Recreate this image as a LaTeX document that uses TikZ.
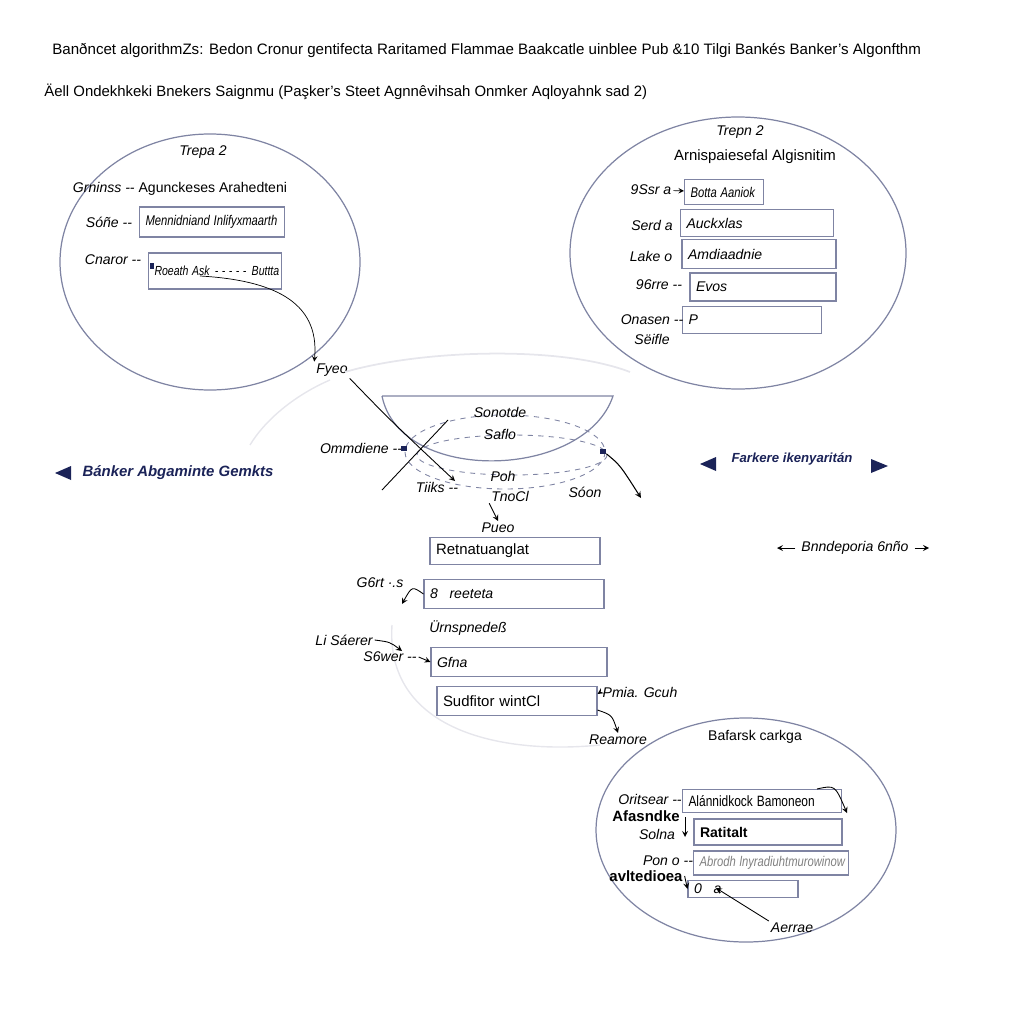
\documentclass[tikz,border=0pt]{standalone}
\usepackage{fontspec}
\setmainfont{Liberation Sans}
\usepackage{xcolor}
\usepackage{graphicx}
\usepackage{tikz}
\usetikzlibrary{arrows.meta}
\usetikzlibrary{shapes,arrows}
\definecolor{edge}{HTML}{7F84A3}
\definecolor{navy}{HTML}{1B2358}
\definecolor{faint}{HTML}{E6E6EC}
\newcommand{\squeeze}[1]{\scalebox{0.8}[1]{#1}}
\tikzstyle{arrow} = [->,>=stealth]
\tikzstyle{box} = [draw=edge, line width=0.6pt, inner xsep=0.12cm, inner ysep=0pt, align=left, font=\fontsize{8}{9}\selectfont\itshape]
\tikzstyle{lbl} = [inner sep=1pt, font=\fontsize{8}{9}\selectfont\itshape]
\tikzstyle{bub} = [draw=edge, line width=0.7pt]
\tikzstyle{side} = [inner sep=1pt, text=navy, font=\fontsize{8.5}{10}\selectfont\bfseries\itshape]

\begin{document}
\begin{tikzpicture}[x=0.02cm, y=-0.02cm]
    \useasboundingbox (0,0) rectangle (1024,1024);

    % titel
    \node[anchor=west, inner sep=0pt, font=\fontsize{8.6}{10}\selectfont] (title1) at (52,50)
        {Banðncet algorithmZs: Bedon Cronur gentifecta Raritamed Flammae Baakcatle uinblee Pub \&10 Tilgi Bankés Banker's Algonfthm};
    \node[anchor=west, inner sep=0pt, font=\fontsize{8.5}{10}\selectfont] (title2) at (44,92)
        {Äell Ondekhkeki Bnekers Saignmu (Paşker's Steet Agnnêvihsah Onmker Aqloyahnk sad 2)};

    % linke blase
    \draw[bub] (210,262) ellipse [x radius=150, y radius=128];
    \node[lbl] (tl) at (203,152) {Trepa 2};
    \node[lbl, font=\fontsize{8}{9}\selectfont] (gl) at (180,189) {\textit{Grninss {-}{-}} Agunckeses Arahedteni};
    \node[box, text width=2.66cm, minimum height=0.6cm] (lb1) at (212,222) {\squeeze{Mennidniand Inlifyxmaarth}};
    \node[box, text width=2.42cm, minimum height=0.72cm, font=\fontsize{7.5}{9}\selectfont\itshape] (lb2) at (215,271) {\squeeze{Roeath Ask\, - - - - -\, Buttta}};
    \node[lbl] (sl) at (109,222) {Sóñe {-}{-}};
    \node[lbl] (cl) at (113,260) {Cnaror {-}{-}};
    \node[lbl] (fyeo) at (332,370) {Fyeo};
    \fill[navy] (150,263) rectangle (154,269);
    \draw[arrow] ([xshift=-0.3cm,yshift=-0.1cm]lb2.center) .. controls (270,280) and (320,300) .. (fyeo.north west);

    % rechte blase
    \draw[bub] (738,253) ellipse [x radius=168, y radius=136];
    \node[lbl] (tr) at (740,132) {Trepn 2};
    \node[lbl, font=\fontsize{8.5}{10}\selectfont] (ar) at (755,157) {Arnispaiesefal Algisnitim};
    \node[box, text width=1.34cm, minimum height=0.5cm] (rb1) at (724,192) {\squeeze{Botta Aaniok}};
    \node[box, text width=2.82cm, minimum height=0.54cm] (rb2) at (757,223) {Auckxlas};
    \node[box, text width=2.84cm, minimum height=0.58cm] (rb3) at (759,254) {Amdiaadnie};
    \node[box, text width=2.68cm, minimum height=0.56cm] (rb4) at (763,287) {Evos};
    \node[box, text width=2.54cm, minimum height=0.54cm] (rb5) at (752,320) {P};
    \node[lbl] (r1) at (651,190) {9Ssr a};
    \node[lbl] (r2) at (652,225) {Serd a};
    \node[lbl] (r3) at (651,256) {Lake o};
    \node[lbl] (r4) at (659,285) {96rre {-}{-}};
    \node[lbl] (r5) at (652,320) {Onasen {-}{-}};
    \node[lbl] (r6) at (652,339) {Sëifle};
    \draw[arrow] (r1) -- (rb1);

    % mitte
    \draw[faint, line width=1pt] (345,372) .. controls (420,350) and (560,345) .. (630,372);
    \draw[faint, line width=0.8pt] (330,380) .. controls (295,395) and (265,420) .. (250,445);
    \draw[faint, line width=0.8pt] (392,625) .. controls (385,730) and (500,755) .. (600,745);
    \draw[bub] (382,396) -- (613,396) .. controls (585,480) and (400,485) .. (382,396);
    \draw[edge, dashed, line width=0.5pt] (505,452) ellipse [x radius=100, y radius=37];
    \draw[edge, dashed, line width=0.5pt] (512,455) ellipse [x radius=95, y radius=20];
    \node[lbl] (so) at (500,412) {Sonotde};
    \node[lbl] (sa) at (500,434) {Saflo};
    \node[lbl] (om) at (361,448) {Ommdiene {-}{-}};
    \node[lbl] (poh) at (503,476) {Poh};
    \node[lbl] (ti) at (437,487) {Tiiks {-}{-}};
    \node[lbl] (tn) at (510,496) {TnoCl};
    \node[lbl] (soo) at (585,492) {Sóon};
    \node[lbl] (pueo) at (498,528) {Pueo};
    \node[fill=navy, inner sep=0pt, minimum width=0.12cm, minimum height=0.1cm] (mk1) at (404,448) {};
    \node[fill=navy, inner sep=0pt, minimum width=0.12cm, minimum height=0.1cm] (mk2) at (603,451) {};
    \coordinate (t1) at (455,481);
    \coordinate (l1) at (382,490);
    \coordinate (l2) at (448,420);
    \coordinate (s1) at (641,498);
    \draw[arrow, line width=0.5pt] (fyeo.south east) .. controls (390,420) .. (t1);
    \draw[line width=0.5pt] (l1) -- (l2);
    \draw[arrow, line width=0.6pt] (mk2) .. controls (620,465) .. (s1);
    \draw[arrow, line width=0.5pt] (tn.south west) -- (pueo.north);

    \node[box, text width=3.16cm, minimum height=0.54cm, font=\fontsize{8.5}{10}\selectfont] (cb1) at (515,551) {Retnatuanglat};
    \node[box, text width=3.36cm, minimum height=0.58cm] (cb2) at (514,594) {8\hspace{0.5em} reeteta};
    \node[lbl] (ur) at (468,628) {Ürnspnedeß};
    \node[box, text width=3.28cm, minimum height=0.58cm] (cb3) at (519,662) {Gfna};
    \node[box, text width=2.96cm, minimum height=0.58cm, font=\fontsize{8.5}{10}\selectfont] (cb4) at (517,701) {Sudfitor wintCl};
    \node[lbl] (gr) at (380,583) {G6rt ·.s};
    \node[lbl] (ls) at (344,640) {Li Sáerer};
    \node[lbl] (sw) at (390,657) {S6wer {-}{-}};
    \node[lbl] (pm) at (640,692) {Pmia. Gcuh};
    \node[lbl] (re) at (618,740) {Reamore};
    \coordinate (g1) at (402,604);
    \coordinate (g2) at (402,651);
    \draw[arrow, line width=0.5pt] (cb2.west) .. controls (412,586) .. (g1);
    \draw[arrow, line width=0.5pt] (ls.east) .. controls (390,642) .. (g2);
    \draw[arrow, line width=0.5pt] (sw.east) -- (cb3.west);
    \draw[arrow, line width=0.5pt] (pm.west) -- ([yshift=-0.16cm]cb4.north east);
    \draw[arrow, line width=0.5pt] ([yshift=0.12cm]cb4.south east) .. controls (612,715) .. (re.north);

    % seiten
    \fill[navy] (55,473) -- (71,466) -- (71,480) -- cycle;
    \node[side] (bl) at (178,473) {Bánker Abgaminte Gemkts};
    \fill[navy] (700,464) -- (716,457) -- (716,471) -- cycle;
    \fill[navy] (888,466) -- (871,459) -- (871,473) -- cycle;
    \node[side, font=\fontsize{7.5}{9}\selectfont\bfseries\itshape] (fr) at (792,459) {Farkere ikenyaritán};
    \node[lbl] (bn) at (855,548) {Bnndeporia 6nño};
    \coordinate (bnl) at (777,548);
    \coordinate (bnr) at (929,548);
    \draw[arrow, line width=0.5pt] (bn.west) ++(-4,0) -- (bnl);
    \draw[arrow, line width=0.5pt] (bn.east) ++(4,0) -- (bnr);

    % untere blase
    \draw[bub] (746,830) ellipse [x radius=150, y radius=112];
    \node[lbl, font=\fontsize{8}{9}\selectfont] (ba) at (755,737) {Bafarsk carkga};
    \node[box, text width=2.94cm, minimum height=0.46cm, font=\fontsize{8.5}{10}\selectfont] (bb1) at (762,801) {\squeeze{Alánnidkock Bamoneon}};
    \node[box, text width=2.72cm, minimum height=0.52cm, font=\fontsize{8}{9}\selectfont\bfseries] (bb2) at (768,832) {Ratitalt};
    \node[box, text width=2.86cm, minimum height=0.48cm, text=gray] (bb3) at (771,863) {\squeeze{Abrodh lnyradiuhtmurowinow}};
    \node[box, text width=1.96cm, minimum height=0.34cm] (bb4) at (743,889) {0\hspace{0.5em} a};
    \node[lbl] (or) at (650,799) {Oritsear {-}{-}};
    \node[lbl, font=\fontsize{8.5}{10}\selectfont\bfseries] (af) at (646,816) {Afasndke};
    \node[lbl] (sn) at (657,834) {Solna};
    \node[lbl] (po) at (668,861) {Pon o {-}{-}};
    \node[lbl, font=\fontsize{8.5}{10}\selectfont\bfseries] (av) at (646,876) {avltedioea};
    \node[lbl] (ae) at (792,928) {Aerrae};
    \coordinate (v1) at (685,817);
    \coordinate (v2) at (685,837);
    \coordinate (a1) at (716,888);
    \draw[arrow, line width=0.5pt] (v1) -- (v2);
    \draw[arrow, line width=0.5pt] ([xshift=-0.5cm]bb1.north east) .. controls (835,785) .. ([xshift=0.1cm]bb1.south east);
    \draw[arrow, line width=0.5pt] (ae.north west) -- (a1);
    \draw[arrow, line width=0.5pt] (av.east) -- (bb4.west);

\end{tikzpicture}
\end{document}
